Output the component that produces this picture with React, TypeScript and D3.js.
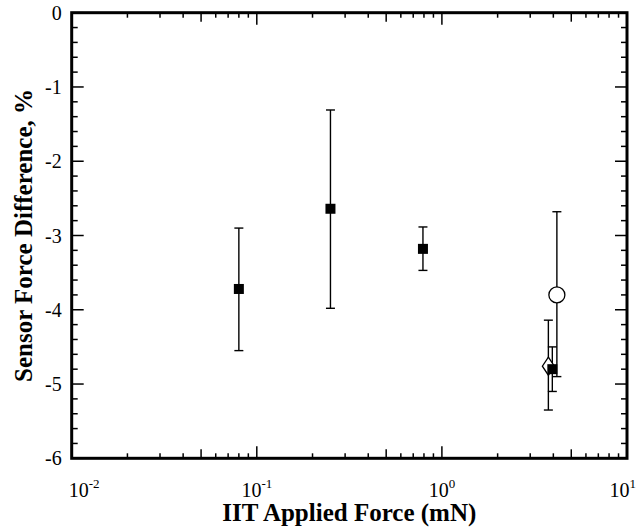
import React, { useRef, useEffect } from "react";
import * as d3 from "d3";

// filled squares
const sqX = [0.08, 0.25, 0.79, 3.95];
const sqY = [-3.72, -2.64, -3.18, -4.8];
const sqLo = [-4.55, -3.98, -3.47, -5.1];
const sqHi = [-2.9, -1.31, -2.885, -4.5];

// open circle
const circX = [4.18];
const circY = [-3.8];
const circLo = [-4.9];
const circHi = [-2.68];

// open diamond
const diaX = [3.76];
const diaY = [-4.76];
const diaLo = [-5.35];
const diaHi = [-4.14];

const yTicks = [0, -1, -2, -3, -4, -5, -6];
const xTickExp = [-2, -1, 0, 1];

export default function App() {
  const svgRef = useRef<SVGSVGElement | null>(null);

  useEffect(() => {
    const svg = d3.select(svgRef.current);
    svg.selectAll("*").remove();

    const width = 637;
    const height = 527;
    const left = 71.7, right = 627, top = 12.7, bottom = 458.3;
    const font = "'Liberation Serif', 'Times New Roman', serif";

    const x = d3.scaleLog().domain([0.01, 10]).range([left, right]);
    const y = d3.scaleLinear().domain([-6, 0]).range([bottom, top]);

    const g = svg.append("g");

    // ticks, all pointing inward
    const tickColor = "#000";
    const yMinor = d3.range(-6, 0.001, 0.2).map((v) => Math.round(v * 10) / 10);
    yMinor.forEach((v) => {
      const major = Math.abs(v - Math.round(v)) < 1e-6;
      const len = major ? 12 : 6;
      g.append("line").attr("x1", left).attr("x2", left + len)
        .attr("y1", y(v)).attr("y2", y(v)).attr("stroke", tickColor).attr("stroke-width", 1.5);
      g.append("line").attr("x1", right).attr("x2", right - len)
        .attr("y1", y(v)).attr("y2", y(v)).attr("stroke", tickColor).attr("stroke-width", 1.5);
    });

    const xAll: { v: number; len: number }[] = [];
    [-2, -1, 0].forEach((e) => {
      for (let k = 1; k <= 9; k++) {
        const len = k === 1 ? 12 : k === 5 ? 9 : 5;
        xAll.push({ v: k * Math.pow(10, e), len });
      }
    });
    xAll.push({ v: 10, len: 12 });
    xAll.forEach((t) => {
      g.append("line").attr("x1", x(t.v)).attr("x2", x(t.v))
        .attr("y1", bottom).attr("y2", bottom - t.len).attr("stroke", tickColor).attr("stroke-width", 1.5);
      g.append("line").attr("x1", x(t.v)).attr("x2", x(t.v))
        .attr("y1", top).attr("y2", top + t.len).attr("stroke", tickColor).attr("stroke-width", 1.5);
    });

    // frame
    g.append("rect").attr("x", left).attr("y", top)
      .attr("width", right - left).attr("height", bottom - top)
      .attr("fill", "none").attr("stroke", "#000").attr("stroke-width", 3);

    // y tick labels
    g.selectAll(".ylab").data(yTicks).enter().append("text")
      .attr("x", left - 10).attr("y", (d) => y(d) + 7)
      .attr("text-anchor", "end").attr("font-family", font).attr("font-size", 20)
      .text((d) => String(d));

    // x tick labels 10^n (end labels kept inside the picture)
    xTickExp.forEach((e, i) => {
      const last = i === xTickExp.length - 1;
      const first = i === 0;
      const t = g.append("text")
        .attr("x", first ? left - 3 : last ? 636 : x(Math.pow(10, e)))
        .attr("y", 497)
        .attr("text-anchor", first ? "start" : last ? "end" : "middle")
        .attr("font-family", font).attr("font-size", 20);
      t.append("tspan").text("10");
      t.append("tspan").attr("dy", -9).attr("font-size", 13).text(String(e));
    });

    // axis titles
    g.append("text").attr("x", (left + right) / 2).attr("y", 521)
      .attr("text-anchor", "middle").attr("font-family", font).attr("font-size", 25)
      .attr("font-weight", "bold").text("IIT Applied Force (mN)");
    g.append("text")
      .attr("transform", `translate(32,${(top + bottom) / 2}) rotate(-90)`)
      .attr("text-anchor", "middle").attr("font-family", font).attr("font-size", 25)
      .attr("font-weight", "bold").text("Sensor Force Difference, %");

    // error bars
    const cap = 4.5;
    const errBars = (xs: number[], lo: number[], hi: number[]) => {
      xs.forEach((xv, i) => {
        const cx = x(xv);
        g.append("line").attr("x1", cx).attr("x2", cx).attr("y1", y(lo[i])).attr("y2", y(hi[i]))
          .attr("stroke", "#000").attr("stroke-width", 1.4);
        [lo[i], hi[i]].forEach((v) => {
          g.append("line").attr("x1", cx - cap).attr("x2", cx + cap).attr("y1", y(v)).attr("y2", y(v))
            .attr("stroke", "#000").attr("stroke-width", 1.4);
        });
      });
    };
    errBars(circX, circLo, circHi);
    errBars(diaX, diaLo, diaHi);
    errBars(sqX, sqLo, sqHi);

    // markers
    circX.forEach((xv, i) => {
      g.append("circle").attr("cx", x(xv)).attr("cy", y(circY[i])).attr("r", 8)
        .attr("fill", "#fff").attr("stroke", "#000").attr("stroke-width", 1.3);
    });
    diaX.forEach((xv, i) => {
      const cx = x(xv), cy = y(diaY[i]);
      g.append("path").attr("d", `M${cx},${cy - 9}L${cx + 6},${cy}L${cx},${cy + 9}L${cx - 6},${cy}Z`)
        .attr("fill", "#fff").attr("stroke", "#000").attr("stroke-width", 1.3);
    });
    sqX.forEach((xv, i) => {
      g.append("rect").attr("x", x(xv) - 5).attr("y", y(sqY[i]) - 5)
        .attr("width", 10).attr("height", 10).attr("fill", "#000");
    });

    svg.attr("width", width).attr("height", height);
  }, []);

  return (
    <svg
      ref={svgRef}
      width={637}
      height={527}
      style={{ position: "absolute", left: 0, top: 0, background: "#fff", display: "block" }}
    ></svg>
  );
}
